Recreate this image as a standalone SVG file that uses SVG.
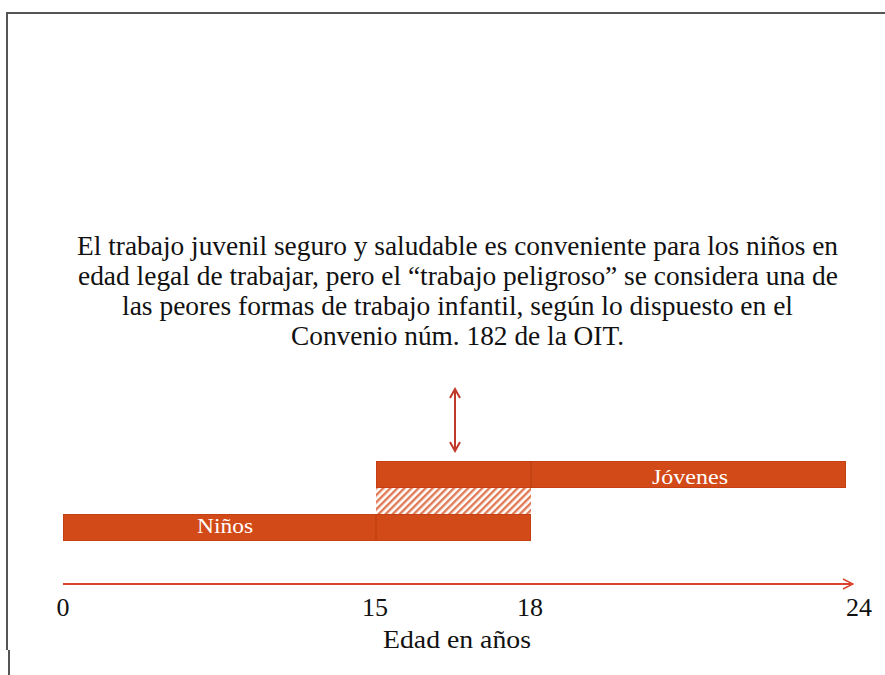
<svg xmlns="http://www.w3.org/2000/svg" width="885" height="675" viewBox="0 0 885 675">
<style>
.t{font-family:"Liberation Serif","Times New Roman",serif;fill:#111;}
.bar{fill:#D24A17;stroke:#C44014;stroke-width:1;}
.lbl{font-family:"Liberation Serif","Times New Roman",serif;fill:#fff;font-size:22px;text-anchor:middle;}
</style>
<defs>
<pattern id="hatch" patternUnits="userSpaceOnUse" width="5" height="5" patternTransform="rotate(45)">
<rect width="5" height="5" fill="#fff"/>
<rect width="2.4" height="5" fill="#E07A55"/>
</pattern>
<marker id="open" viewBox="0 0 12 12" refX="11" refY="6" markerWidth="12" markerHeight="12" markerUnits="userSpaceOnUse" orient="auto">
<path d="M1,1 L11,6 L1,11" fill="none" stroke="#D9442E" stroke-width="1.5"/>
</marker>
<marker id="ah" viewBox="0 0 12 12" refX="10" refY="6" markerWidth="12" markerHeight="12" markerUnits="userSpaceOnUse" orient="auto-start-reverse">
<path d="M1,1 L10,6 L1,11" fill="none" stroke="#C0392B" stroke-width="2"/>
</marker>
</defs>
<rect width="885" height="675" fill="#fff"/>
<g id="frame" fill="none" stroke="#555" stroke-width="2">
<path d="M7,650 V13 H885"/>
<path d="M9,650 V675"/>
</g>
<g id="caption" class="t" font-size="27">
<text x="77" y="255" textLength="761" lengthAdjust="spacingAndGlyphs">El trabajo juvenil seguro y saludable es conveniente para los niños en</text>
<text x="78" y="285" textLength="760" lengthAdjust="spacingAndGlyphs">edad legal de trabajar, pero el “trabajo peligroso” se considera una de</text>
<text x="122" y="315" textLength="671" lengthAdjust="spacingAndGlyphs">las peores formas de trabajo infantil, según lo dispuesto en el</text>
<text x="291" y="345" textLength="333" lengthAdjust="spacingAndGlyphs">Convenio núm. 182 de la OIT.</text>
</g>
<g id="connectors">
<line x1="455" y1="389" x2="455" y2="451" stroke="#C0392B" stroke-width="2" marker-start="url(#ah)" marker-end="url(#ah)"/>
<line x1="63" y1="584" x2="853" y2="584" stroke="#D9442E" stroke-width="2" marker-end="url(#open)"/>
</g>
<g id="hazard">
<rect x="376" y="488" width="155" height="26" fill="url(#hatch)"/>
</g>
<g id="ninos">
<rect class="bar" x="63.5" y="514.5" width="467" height="26"/>
<line x1="376" y1="514" x2="376" y2="541" stroke="#B83A10" stroke-width="1"/>
<text class="lbl" x="225" y="533" textLength="56" lengthAdjust="spacingAndGlyphs">Niños</text>
</g>
<g id="jovenes">
<rect class="bar" x="376.5" y="461.5" width="469" height="26"/>
<line x1="531" y1="461" x2="531" y2="488" stroke="#B83A10" stroke-width="1"/>
<text class="lbl" x="690" y="484" textLength="76" lengthAdjust="spacingAndGlyphs">Jóvenes</text>
</g>
<g id="axis-labels" class="t" font-size="26" text-anchor="middle">
<text x="63" y="616">0</text>
<text x="375" y="616">15</text>
<text x="530" y="616">18</text>
<text x="859" y="616">24</text>
<text x="457" y="648" textLength="148" lengthAdjust="spacingAndGlyphs">Edad en años</text>
</g>
</svg>
